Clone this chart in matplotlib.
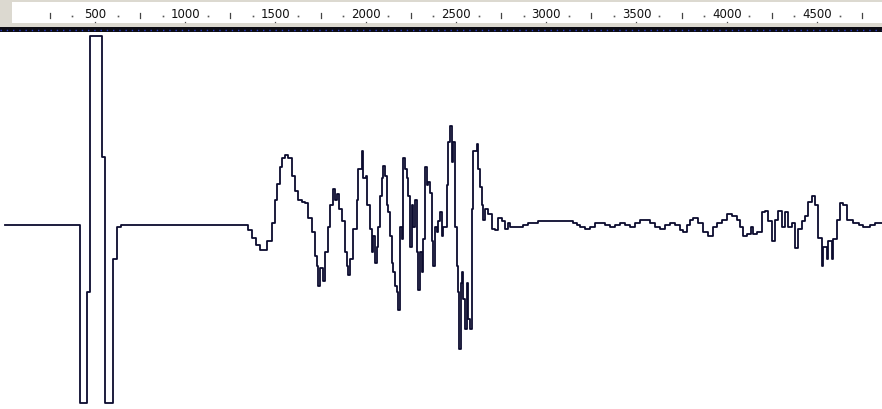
import numpy as np
from matplotlib import pyplot as plt

# waveform: sample index and amplitude (held until next sample)
samples = [0, 417, 457, 470, 539, 557, 598, 620, 642, 1320,
           1348, 1370, 1392, 1414, 1442, 1453, 1470, 1481, 1497, 1508,
           1525, 1536, 1553, 1564, 1569, 1591, 1608, 1625, 1647, 1663,
           1680, 1702, 1719, 1730, 1735, 1747, 1763, 1774, 1791, 1802,
           1818, 1830, 1841, 1852, 1868, 1885, 1896, 1902, 1913, 1929,
           1951, 1957, 1979, 1985, 2001, 2007, 2024, 2035, 2040, 2051,
           2062, 2068, 2079, 2090, 2096, 2107, 2118, 2123, 2134, 2145,
           2151, 2162, 2173, 2179, 2190, 2201, 2206, 2217, 2228, 2234,
           2245, 2256, 2262, 2273, 2284, 2289, 2300, 2311, 2317, 2328,
           2339, 2345, 2356, 2367, 2373, 2384, 2395, 2400, 2411, 2422,
           2428, 2450, 2456, 2467, 2478, 2483, 2494, 2506, 2511, 2517,
           2528, 2533, 2539, 2550, 2561, 2566, 2577, 2589, 2594, 2616,
           2622, 2633, 2644, 2650, 2661, 2677, 2699, 2716, 2733, 2755,
           2771, 2788, 2799, 2817, 2845, 2873, 2900, 2928, 2956, 2984,
           3132, 3150, 3169, 3187, 3215, 3242, 3270, 3298, 3325, 3353,
           3381, 3408, 3436, 3464, 3492, 3519, 3547, 3575, 3602, 3630,
           3658, 3686, 3713, 3741, 3760, 3778, 3796, 3815, 3842, 3870,
           3898, 3925, 3944, 3972, 4000, 4027, 4055, 4073, 4092, 4110,
           4134, 4145, 4167, 4195, 4212, 4228, 4251, 4267,
           4284, 4306, 4323, 4339, 4361, 4378, 4395, 4417, 4433, 4450,
           4472, 4489, 4506, 4528, 4533, 4555, 4561, 4583, 4588, 4611,
           4627, 4644, 4666, 4699, 4730, 4755, 4793, 4820, 4860]
amplitude = [0, -99, -37, 105, 38, -99, -19, -1, 0, 0,
             -3, -7, -11, -14, -14, -9, -9, 1, 14, 23,
             32, 37, 39, 39, 37, 27, 19, 14, 13, 12,
             4, -4, -17, -23, -34, -24, -31, -15, -1, 11,
             20, 14, 17, 9, 2, -15, -23, -28, -19, -2,
             14, 31, 41, 26, 27, 11, -2, -15, -6, -21,
             -12, -1, 16, 26, 33, 27, 11, 7, -6, -21,
             -26, -34, -37, -47, -1, -8, 37, 31, 26, 16,
             -12, 11, -1, 14, -15, -36, -15, -26, -8, 32,
             22, 24, 18, -9, -23, -1, -4, 2, 7, -6,
             -1, 22, 46, 55, 35, 46, -1, -23, -37, -69,
             -32, -26, -41, -58, -32, -52, -58, 9, 41, 45,
             31, 21, 11, 3, 9, 6, -2, -3, 4, 2,
             -2, 1, -1, -1, -1, 0, 1, 1, 2, 2,
             2, 1, 0, -1, -2, -1, 1, 1, 0, -1,
             0, 1, 0, -1, 1, 3, 3, 1, -1, -2,
             0, 1, 0, -3, -4, 0, 3, 4, 1, -4,
             -6, -1, 1, 3, 6, 5, 3, -1, -6, -5,
             -1, -5, -4, 7, 8, 2, -9, 3,
             8, -1, 7, -1, 1, -13, -2, 2, 5, 13,
             16, 11, -7, -23, -12, -19, -9, -19, -8, 3,
             12, 11, 3, 1, 0, -1, 0, 1, 1]

ruler_labels = [500, 1000, 1500, 2000, 2500, 3000, 3500, 4000, 4500]
ruler_step = 125

x_min, x_max = -26, 4860
W, H = 882, 410
ruler_h = 33

fig = plt.figure(figsize=(W / 100, H / 100), dpi=100)

# main waveform area
ax = fig.add_axes([0, 0, 1, (H - ruler_h) / H])
ax.plot(samples, amplitude, drawstyle='steps-post', color='#0b0b2e', lw=1.3)
ax.set_xlim(x_min, x_max)
ax.set_ylim(-102.2, 107.2)
ax.axis('off')

# ruler strip on top
rax = fig.add_axes([0, (H - ruler_h) / H, 1, ruler_h / H])
rax.set_xlim(x_min, x_max)
rax.set_ylim(ruler_h, 0)
rax.set_facecolor('#dcd9d0')
rax.axhspan(3, 24, xmin=12 / W, xmax=1, color='white', lw=0)
rax.axhspan(28, 33, color='#0c0c14', lw=0)
rax.axhline(31, color='#2a3cc8', lw=1, ls=(0, (1, 3.5)))

for t in range(2 * ruler_step, int(x_max), ruler_step):
    if t in ruler_labels:
        rax.text(t, 15, str(t), ha='center', va='center', fontsize=8.5,
                 color='#111111', family='DejaVu Sans')
        rax.plot([t], [22.5], marker='s', ms=0.9, color='#555555', mew=0)
    elif t % 250 == 0:
        rax.plot([t, t], [14, 18.5], color='#444444', lw=0.9)
    else:
        rax.plot([t], [17], marker='s', ms=1.2, color='#555555', mew=0)

for s in ['top', 'bottom', 'left', 'right']:
    rax.spines[s].set_visible(False)
rax.set_xticks([])
rax.set_yticks([])

fig.savefig('out.png', dpi=100)
